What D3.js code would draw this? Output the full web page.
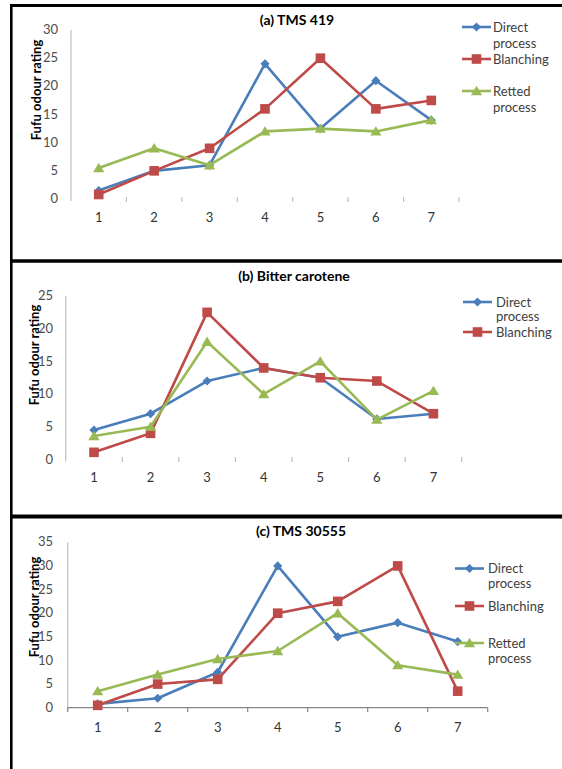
<!DOCTYPE html>
<html>
<head>
<meta charset="utf-8">
<script src="https://cdn.jsdelivr.net/npm/d3@7/dist/d3.min.js"></script>
<style>
  html, body { margin: 0; padding: 0; background: #fff; }
  svg { display: block; }
  text { font-family: Lato, "Open Sans", "Liberation Sans", sans-serif; }
</style>
</head>
<body>
<svg id="chart" width="562" height="769"></svg>
<script>
// Sampling days along the x axis
const categories = ["1", "2", "3", "4", "5", "6", "7"];

// (a) TMS 419
const directA  = [1.5, 5, 6, 24, 12.5, 21, 14];
const blanchA  = [0.8, 5, 9, 16, 25, 16, 17.5];
const rettedA  = [5.5, 9, 6, 12, 12.5, 12, 14];
const ticksA   = [0, 5, 10, 15, 20, 25, 30];

// (b) Bitter carotene
const directB  = [4.5, 7, 12, 14, 12.5, 6.2, 7];
const blanchB  = [1.1, 4, 22.5, 14, 12.5, 12, 7];
const rettedB  = [3.6, 5, 18, 10, 15, 6.1, 10.5];
const ticksB   = [0, 5, 10, 15, 20, 25];

// (c) TMS 30555
const directC  = [0.8, 2, 7.5, 30, 15, 18, 14];
const blanchC  = [0.5, 5, 6, 20, 22.5, 30, 3.5];
const rettedC  = [3.5, 7, 10.3, 12, 20, 9, 7];
const ticksC   = [0, 5, 10, 15, 20, 25, 30, 35];

const seriesNames = ["Direct process", "Blanching", "Retted process"];
const colors = ["#4A7EBB", "#BE4B48", "#98B954"];
const shapes = ["diamond", "square", "triangle"];

const svg = d3.select("#chart");

function markerPath(shape) {
  if (shape === "diamond") return "M0,-4.6L4.6,0L0,4.6L-4.6,0Z";
  if (shape === "square") return "M-4.8,-4.8H4.8V4.8H-4.8Z";
  return "M0,-5.2L5.6,4.2H-5.6Z";
}

// Panel frames
const frame = svg.append("g").attr("stroke", "#000").attr("fill", "none");
frame.append("line").attr("x1", 10).attr("x2", 562).attr("y1", 5.5).attr("y2", 5.5).attr("stroke-width", 3);
frame.append("line").attr("x1", 10).attr("x2", 562).attr("y1", 261).attr("y2", 261).attr("stroke-width", 3.5);
frame.append("line").attr("x1", 10).attr("x2", 562).attr("y1", 516.5).attr("y2", 516.5).attr("stroke-width", 4);
frame.append("line").attr("x1", 11.3).attr("x2", 11.3).attr("y1", 4).attr("y2", 769).attr("stroke-width", 2.6);

const panels = [
  {
    title: "(a) TMS 419", titleX: 297, titleY: 25,
    series: [directA, blanchA, rettedA], ticks: ticksA, max: 30,
    x0: 71, x1: 459, y0: 199, yTop: 30, axisTop: 30,
    tickRight: 58, xLabelY: 222, yTitleX: 36, yTitleY: 90,
    showXLine: false, xTickY: [197, 202],
    legend: { lx0: 462, lx1: 491, tx: 493, rows: [27, 59, 91], gap: 16, count: 3 }
  },
  {
    title: "(b) Bitter carotene", titleX: 294, titleY: 281,
    series: [directB, blanchB, rettedB], ticks: ticksB, max: 25,
    x0: 65.7, x1: 461.7, y0: 459.5, yTop: 296, axisTop: 296,
    tickRight: 53, xLabelY: 482, yTitleX: 34, yTitleY: 355,
    showXLine: false, xTickY: [457, 462],
    legend: { lx0: 463, lx1: 492, tx: 496, rows: [302, 332], gap: 14.5, count: 2 }
  },
  {
    title: "(c) TMS 30555", titleX: 301, titleY: 536,
    series: [directC, blanchC, rettedC], ticks: ticksC, max: 35,
    x0: 67.7, x1: 487.7, y0: 707.7, yTop: 542.3, axisTop: 542.3,
    tickRight: 53, xLabelY: 732, yTitleX: 34, yTitleY: 607,
    showXLine: true, xTickY: [707.7, 712],
    legend: { lx0: 455, lx1: 484, tx: 488, rows: [568.5, 606, 643], gap: 15, count: 3 }
  }
];

panels.forEach(p => {
  const g = svg.append("g");

  const x = d3.scaleBand().domain(categories).range([p.x0, p.x1]).padding(0);
  const y = d3.scaleLinear().domain([0, p.max]).range([p.y0, p.yTop]);

  // Value axis
  g.append("line")
    .attr("x1", p.x0).attr("x2", p.x0)
    .attr("y1", p.axisTop).attr("y2", p.y0 + 2)
    .attr("stroke", "#BFBFBF").attr("stroke-width", 1.2);

  g.selectAll(".ytick").data(p.ticks).enter().append("text")
    .attr("x", p.tickRight).attr("y", d => y(d))
    .attr("dy", "0.32em")
    .attr("text-anchor", "end")
    .attr("font-size", 13).attr("fill", "#4D4D4D")
    .text(d => d);

  // Category axis
  if (p.showXLine) {
    g.append("line")
      .attr("x1", p.x0).attr("x2", p.x1)
      .attr("y1", p.y0).attr("y2", p.y0)
      .attr("stroke", "#868686").attr("stroke-width", 1.2);
  }
  const bounds = categories.map(c => x(c)).concat([p.x1]);
  g.selectAll(".xtick").data(bounds.slice(p.showXLine ? 0 : 1)).enter().append("line")
    .attr("x1", d => d).attr("x2", d => d)
    .attr("y1", p.xTickY[0]).attr("y2", p.xTickY[1])
    .attr("stroke", p.showXLine ? "#868686" : "#BFBFBF").attr("stroke-width", 1.2);

  g.selectAll(".xlabel").data(categories).enter().append("text")
    .attr("x", d => x(d) + x.bandwidth() / 2).attr("y", p.xLabelY)
    .attr("text-anchor", "middle")
    .attr("font-size", 13).attr("fill", "#333")
    .text(d => d);

  // Series lines and markers
  const line = d3.line()
    .x((d, i) => x(categories[i]) + x.bandwidth() / 2)
    .y(d => y(d));

  p.series.forEach((vals, si) => {
    const sg = g.append("g");
    sg.append("path").datum(vals)
      .attr("d", line)
      .attr("fill", "none")
      .attr("stroke", colors[si]).attr("stroke-width", 2.6)
      .attr("stroke-linejoin", "round");
    sg.selectAll("path.mk").data(vals).enter().append("path")
      .attr("class", "mk")
      .attr("transform", (d, i) => `translate(${x(categories[i]) + x.bandwidth() / 2},${y(d)})`)
      .attr("d", markerPath(shapes[si]))
      .attr("fill", colors[si]);
  });

  // Title
  g.append("text")
    .attr("x", p.titleX).attr("y", p.titleY)
    .attr("text-anchor", "middle")
    .attr("font-size", 14).attr("font-weight", "bold").attr("fill", "#000")
    .text(p.title);

  // Value axis title
  g.append("text")
    .attr("transform", `translate(${p.yTitleX},${p.yTitleY}) rotate(-90)`)
    .attr("dy", "0.35em")
    .attr("text-anchor", "middle")
    .attr("font-size", 13).attr("font-weight", "bold").attr("fill", "#000")
    .text("Fufu odour rating");

  // Legend
  const L = p.legend;
  for (let i = 0; i < L.count; i++) {
    const ry = L.rows[i];
    const lg = g.append("g");
    lg.append("line")
      .attr("x1", L.lx0).attr("x2", L.lx1).attr("y1", ry).attr("y2", ry)
      .attr("stroke", colors[i]).attr("stroke-width", 2.6);
    lg.append("path")
      .attr("transform", `translate(${(L.lx0 + L.lx1) / 2},${ry})`)
      .attr("d", markerPath(shapes[i]))
      .attr("fill", colors[i]);
    const words = seriesNames[i].split(" ");
    const t = lg.append("text")
      .attr("x", L.tx).attr("y", ry)
      .attr("font-size", 13).attr("fill", "#404040");
    words.forEach((w, wi) => {
      t.append("tspan").attr("x", L.tx).attr("dy", wi === 0 ? "0.35em" : L.gap).text(w);
    });
  }
});
</script>
</body>
</html>
